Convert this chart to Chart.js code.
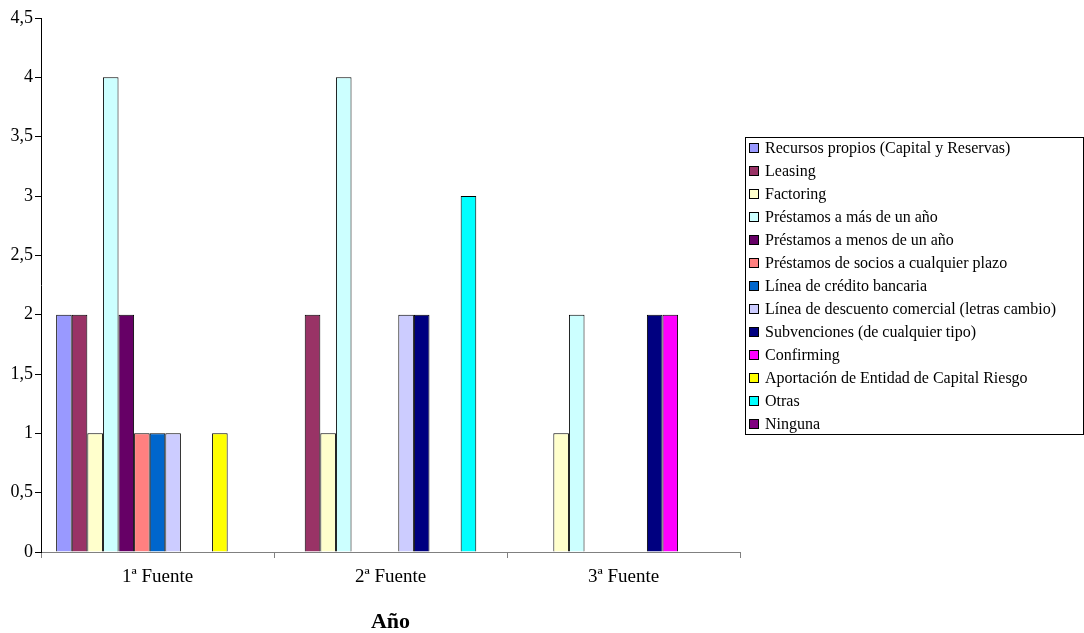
<!DOCTYPE html>
<html>
<head>
<meta charset="utf-8">
<script src="https://cdn.jsdelivr.net/npm/chart.js@4/dist/chart.umd.min.js"></script>
<style>
  html, body { margin: 0; padding: 0; background: #fff; }
  #wrap { width: 1084px; height: 633px; }
</style>
</head>
<body>
<div id="wrap"><canvas id="chart" width="1084" height="633"></canvas></div>
<script>
// categories and series
const categories = ['1ª Fuente', '2ª Fuente', '3ª Fuente'];
const seriesNames = [
  'Recursos propios (Capital y Reservas)',
  'Leasing',
  'Factoring',
  'Préstamos a más de un año',
  'Préstamos a menos de un año',
  'Préstamos de socios a cualquier plazo',
  'Línea de crédito bancaria',
  'Línea de descuento comercial (letras cambio)',
  'Subvenciones (de cualquier tipo)',
  'Confirming',
  'Aportación de Entidad de Capital Riesgo',
  'Otras',
  'Ninguna'
];
const seriesColors = [
  '#9999FF', '#993366', '#FFFFCC', '#CCFFFF', '#660066', '#FF8080', '#0066CC',
  '#CCCCFF', '#000080', '#FF00FF', '#FFFF00', '#00FFFF', '#800080'
];
// one row per series: [1ª, 2ª, 3ª]
const recursosPropios = [2, 0, 0];
const leasing = [2, 2, 0];
const factoring = [1, 1, 1];
const prestamosMas = [4, 4, 2];
const prestamosMenos = [2, 0, 0];
const prestamosSocios = [1, 0, 0];
const lineaCredito = [1, 0, 0];
const lineaDescuento = [1, 2, 0];
const subvenciones = [0, 2, 2];
const confirming = [0, 0, 2];
const aportacion = [1, 0, 0];
const otras = [0, 3, 0];
const ninguna = [0, 0, 0];
const seriesValues = [
  recursosPropios, leasing, factoring, prestamosMas, prestamosMenos, prestamosSocios,
  lineaCredito, lineaDescuento, subvenciones, confirming, aportacion, otras, ninguna
];
const yTicksMax = 4.5;
const yTicksStep = 0.5;
const axisTitle = 'Año';

const serif = '"Liberation Serif", "Times New Roman", serif';

// legend drawn on the canvas in a bordered box, like the original
const boxLegend = {
  id: 'boxLegend',
  afterDraw(chart) {
    const ctx = chart.ctx;
    const left = 745, top = 137, right = 1083, bottom = 434;
    ctx.save();
    ctx.fillStyle = '#fff';
    ctx.fillRect(left, top, right - left, bottom - top);
    ctx.strokeStyle = '#000';
    ctx.lineWidth = 1;
    ctx.strokeRect(left + 0.5, top + 0.5, right - left, bottom - top);
    ctx.font = '16px ' + serif;
    ctx.textBaseline = 'middle';
    chart.data.datasets.forEach((ds, i) => {
      const y = 148 + i * 23;
      ctx.fillStyle = ds.backgroundColor;
      ctx.fillRect(749, y - 5, 10, 10);
      ctx.strokeStyle = '#000';
      ctx.strokeRect(749.5, y - 4.5, 9, 9);
      ctx.fillStyle = '#000';
      ctx.fillText(ds.label, 765, y + 1);
    });
    ctx.restore();
  }
};

const ctx = document.getElementById('chart').getContext('2d');
new Chart(ctx, {
  type: 'bar',
  data: {
    labels: categories,
    datasets: seriesNames.map((name, i) => ({
      label: name,
      data: seriesValues[i],
      backgroundColor: seriesColors[i],
      borderColor: '#000',
      borderWidth: 1,
      categoryPercentage: 0.87,
      barPercentage: 1
    }))
  },
  options: {
    responsive: false,
    animation: false,
    layout: { padding: { top: 18, right: 344, left: 0, bottom: 0 } },
    plugins: {
      legend: { display: false },
      tooltip: { enabled: false }
    },
    scales: {
      x: {
        afterFit(scale) { scale.height = 81; },
        grid: { display: true, drawOnChartArea: false, drawTicks: true, tickLength: 6, color: '#808080', offset: true },
        border: { display: true, color: '#808080', width: 1 },
        ticks: { color: '#000', font: { family: serif, size: 19 }, padding: 8 },
        title: { display: true, text: axisTitle, color: '#000', font: { family: serif, size: 22, weight: 'bold', lineHeight: 1 }, padding: { top: 4, bottom: 0 } }
      },
      y: {
        min: 0,
        max: yTicksMax,
        afterFit(scale) { scale.width = 41; },
        grid: { display: true, drawOnChartArea: false, drawTicks: true, tickLength: 6, color: '#000' },
        border: { display: true, color: '#000', width: 1 },
        ticks: {
          stepSize: yTicksStep,
          color: '#000',
          padding: 2,
          font: { family: serif, size: 18 },
          callback: v => String(v).replace('.', ',')
        }
      }
    }
  },
  plugins: [boxLegend]
});
</script>
</body>
</html>
